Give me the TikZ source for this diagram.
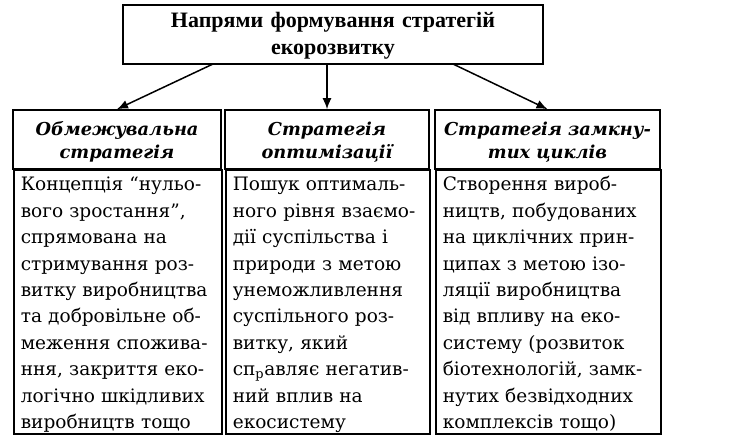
\documentclass[tikz,border=0pt]{standalone}
\usepackage{fontspec}
\setmainfont{DejaVu Serif}
\newfontfamily\topfont{Liberation Serif}
\usetikzlibrary{arrows.meta}
\begin{document}
\begin{tikzpicture}[x=1pt, y=1pt,
    topbox/.style={draw, line width=1.6pt, minimum width=420pt, minimum height=59pt,
        align=center, inner sep=0pt, text width=420pt, text height=19pt, text depth=34pt,
        font=\topfont\bfseries\fontsize{22}{27}\selectfont},
    headbox/.style={draw, line width=1.6pt, minimum height=59pt, align=center,
        inner sep=0pt, text height=19.3pt, text depth=28.3pt,
        font=\bfseries\itshape\fontsize{17.8}{23.3}\selectfont},
    bodybox/.style={draw, line width=1.6pt, minimum height=264pt, align=left,
        anchor=north west, inner xsep=7pt, inner ysep=0pt,
        text height=21pt, text depth=243pt,
        font=\fontsize{18.5}{26.4}\selectfont},
    link/.style={line width=1.5pt, -{Latex[length=11pt, width=9pt]}}]
    \useasboundingbox (0,0) rectangle (740,-445);

    % Top box
    \node[topbox] (top) at (333,-34.5) {Напрями формування стратегій\\екорозвитку};

    % Column headers
    \node[headbox, text width=208pt] (h1) at (117,-139.5) {Обмежувальна\\стратегія};
    \node[headbox, text width=204pt] (h2) at (327,-139.5) {Стратегія\\оптимізації};
    \node[headbox, text width=225pt] (h3) at (547.5,-139.5) {Стратегія замкну-\\тих циклів};

    % Column bodies
    \node[bodybox, minimum width=208pt, text width=194pt] (b1) at (13,-169)
        {Концепція “нульо-\\вого зростання”,\\спрямована на\\стримування роз-\\витку виробництва\\та добровільне об-\\меження спожива-\\ння, закриття еко-\\логічно шкідливих\\виробництв тощо};
    \node[bodybox, minimum width=204pt, text width=190pt] (b2) at (225,-169)
        {Пошук оптималь-\\ного рівня взаємо-\\дії суспільства і\\природи з метою\\унеможливлення\\суспільного роз-\\витку, який\\сп\textsubscript{р}авляє негатив-\\ний вплив на\\екосистему};
    \node[bodybox, minimum width=225pt, text width=211pt] (b3) at (435,-169)
        {Створення вироб-\\ництв, побудованих\\на циклічних прин-\\ципах з метою ізо-\\ляції виробництва\\від впливу на еко-\\систему (розвиток\\біотехнологій, замк-\\нутих безвідходних\\комплексів тощо)};

    % Arrows
    \coordinate (s1) at (213,-64); \coordinate (s3) at (453,-64);
    \draw[link] (s1) -- (h1.north);
    \draw[link] (top.south -| h2.north) -- (h2.north);
    \draw[link] (s3) -- (h3.north);
\end{tikzpicture}
\end{document}
